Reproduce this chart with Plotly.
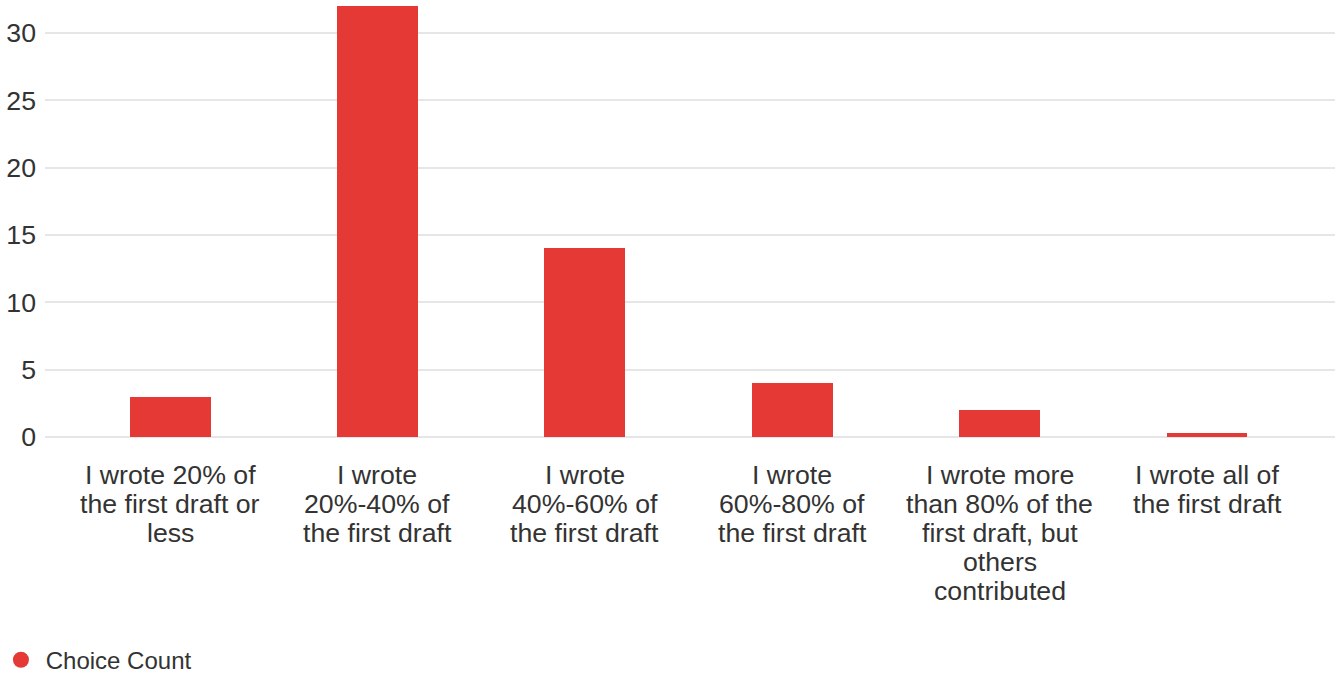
import plotly.graph_objects as go

# each category label split into its wrapped lines
categories = [
    ["I wrote 20% of", "the first draft or", "less"],
    ["I wrote", "20%-40% of", "the first draft"],
    ["I wrote", "40%-60% of", "the first draft"],
    ["I wrote", "60%-80% of", "the first draft"],
    ["I wrote more", "than 80% of the", "first draft, but", "others", "contributed"],
    ["I wrote all of", "the first draft"],
]
counts = [3, 32, 14, 4, 2, 0.3]
series_name = "Choice Count"
red = "#e53935"
text_color = "#333333"

fig = go.Figure()
fig.add_trace(go.Bar(
    x=list(range(len(categories))), y=counts, width=0.39,
    marker=dict(color=red, line=dict(width=0)),
    showlegend=False, hoverinfo="y",
))
# legend entry drawn as a dot like the original
fig.add_trace(go.Scatter(
    x=[None], y=[None], mode="markers", name="\u2009" + series_name,
    marker=dict(color=red, size=20, symbol="circle"),
))

# category labels as annotations so the line spacing can be tighter than plotly's default
for i, lines in enumerate(categories):
    for k, line in enumerate(lines):
        fig.add_annotation(
            x=i, y=0, xref="x", yref="y", text=line, showarrow=False,
            xanchor="center", yanchor="middle", yshift=-(38 + 29 * k),
            font=dict(size=26.7, color=text_color),
        )

fig.update_layout(
    width=1338, height=675,
    margin=dict(l=45, r=3, t=6, b=238, autoexpand=False),
    plot_bgcolor="white", paper_bgcolor="white",
    font=dict(family="Liberation Sans, Arial, sans-serif", size=26.7, color=text_color),
    bargap=0,
    legend=dict(orientation="h", xref="container", yref="container",
                x=0.0007, xanchor="left", y=0.022, yanchor="middle",
                font=dict(size=24, color=text_color)),
    xaxis=dict(
        range=[-0.603, 5.617], showticklabels=False, automargin=False,
        showgrid=False, zeroline=False, showline=False, ticks="",
    ),
    yaxis=dict(
        range=[0, 32], dtick=5, showgrid=True, gridcolor="#e6e6e6", gridwidth=2,
        zeroline=True, zerolinecolor="#e6e6e6", zerolinewidth=2,
        ticks="", ticklabelstandoff=8, automargin=False,
    ),
)

# drop the browser's default body margin so the chart sits at the page corner
fig.write_html("out.html", config={"displayModeBar": False},
               post_script="document.body.style.margin='0';")
